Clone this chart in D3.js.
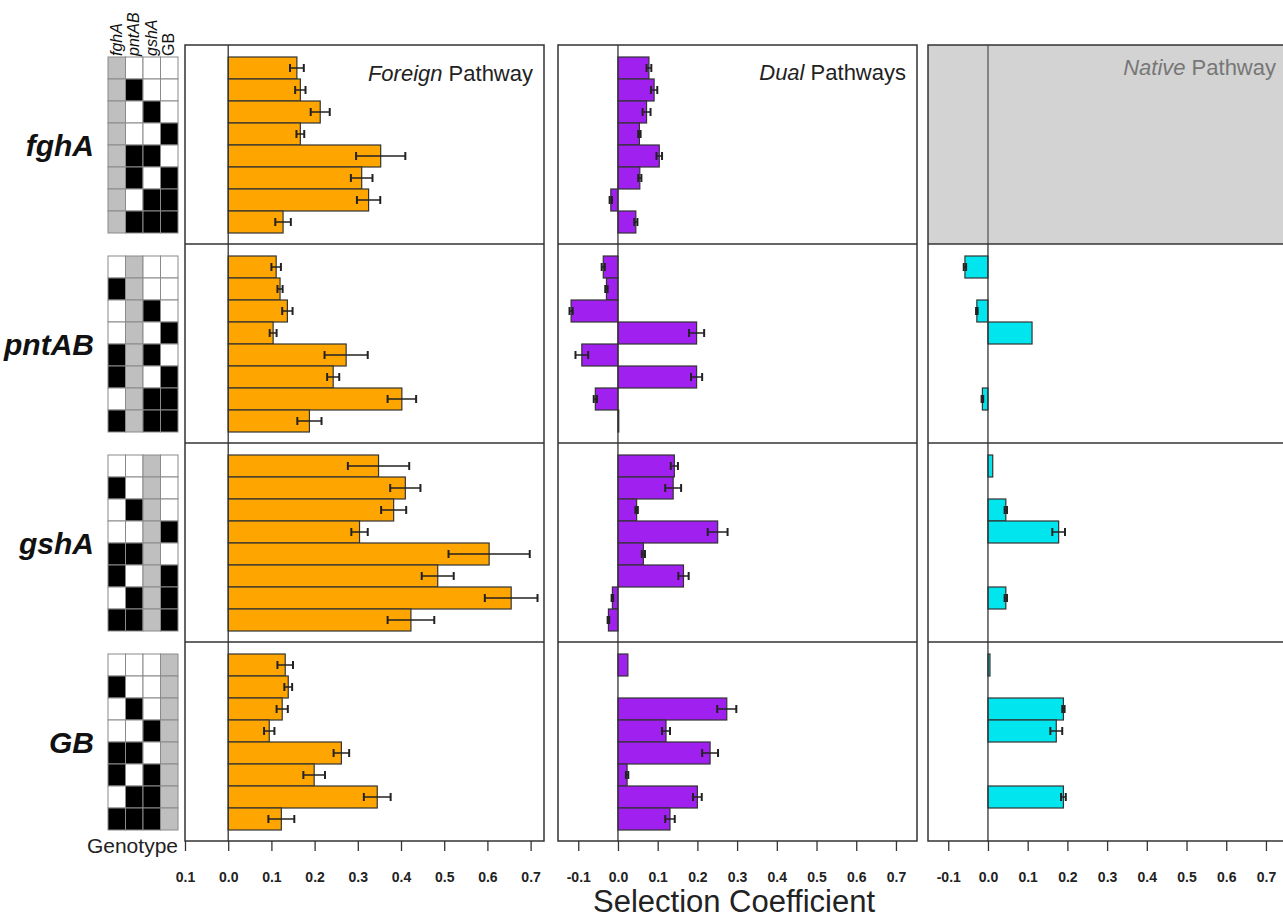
<!DOCTYPE html>
<html>
<head>
<meta charset="utf-8">
<script src="https://d3js.org/d3.v7.min.js"></script>
<style>
  body { margin: 0; background: #fff; }
  svg { display: block; font-family: "Liberation Sans", Arial, sans-serif; }
</style>
</head>
<body>
<div id="chart"></div>
<script>
// Genes (one block of rows per gene) and the 8 genotypes of the other three genes
const genes = ["fghA", "pntAB", "gshA", "GB"];
const otherGenePattern = [
  [0, 0, 0], [1, 0, 0], [0, 1, 0], [0, 0, 1],
  [1, 1, 0], [1, 0, 1], [0, 1, 1], [1, 1, 1]
];

// Selection coefficients, one row of 8 genotypes per gene block (null = not measured)
const foreignMeans = [
  [0.159, 0.167, 0.213, 0.167, 0.353, 0.309, 0.325, 0.127],
  [0.111, 0.120, 0.137, 0.104, 0.273, 0.243, 0.402, 0.188],
  [0.348, 0.410, 0.383, 0.304, 0.604, 0.485, 0.655, 0.423],
  [0.132, 0.139, 0.125, 0.095, 0.262, 0.199, 0.345, 0.123]
];
const foreignErrors = [
  [0.016, 0.012, 0.022, 0.009, 0.057, 0.025, 0.027, 0.018],
  [0.011, 0.006, 0.012, 0.008, 0.050, 0.014, 0.033, 0.028],
  [0.071, 0.035, 0.029, 0.019, 0.094, 0.037, 0.061, 0.054],
  [0.018, 0.009, 0.013, 0.012, 0.018, 0.025, 0.031, 0.030]
];

const dualMeans = [
  [0.078, 0.091, 0.072, 0.054, 0.104, 0.055, -0.018, 0.045],
  [-0.037, -0.029, -0.118, 0.198, -0.091, 0.198, -0.057, 0.002],
  [0.142, 0.139, 0.047, 0.251, 0.064, 0.165, -0.014, -0.024],
  [0.025, null, 0.274, 0.121, 0.232, 0.023, 0.200, 0.131]
];
const dualErrors = [
  [0.006, 0.008, 0.010, 0.003, 0.007, 0.004, 0.003, 0.004],
  [0.004, 0.003, 0.004, 0.019, 0.016, 0.014, 0.004, 0],
  [0.009, 0.020, 0.003, 0.025, 0.004, 0.013, 0.002, 0.002],
  [0, null, 0.024, 0.010, 0.020, 0.003, 0.011, 0.012]
];

const nativeMeans = [
  [null, null, null, null, null, null, null, null],
  [-0.058, null, -0.028, 0.111, null, null, -0.014, null],
  [0.012, null, 0.045, 0.178, null, null, 0.045, null],
  [0.005, null, 0.190, 0.172, null, null, 0.190, null]
];
const nativeErrors = [
  [null, null, null, null, null, null, null, null],
  [0.003, null, 0.002, 0, null, null, 0.002, null],
  [0, null, 0.003, 0.016, null, null, 0.003, null],
  [0, null, 0.003, 0.015, null, null, 0.006, null]
];

// Axis ticks
const tickValues = [-0.1, 0, 0.1, 0.2, 0.3, 0.4, 0.5, 0.6, 0.7];
const foreignTickLabels = ["0.1", "0.0", "0.1", "0.2", "0.3", "0.4", "0.5", "0.6", "0.7"];
const pathwayTickLabels = ["-0.1", "0.0", "0.1", "0.2", "0.3", "0.4", "0.5", "0.6", "0.7"];

// Layout
const width = 1283, height = 920;
const plotTop = 45, rowH = 199, plotBottom = plotTop + rowH * 4;

const panels = [
  { title: "Foreign", rest: " Pathway", means: foreignMeans, errs: foreignErrors, color: "#ffa500",
    range: [185, 544], domain: [-0.1, 0.731], labels: foreignTickLabels, titleColor: "#222", titleY: 81 },
  { title: "Dual", rest: " Pathways", means: dualMeans, errs: dualErrors, color: "#a020f0",
    range: [558, 917], domain: [-0.151, 0.753], labels: pathwayTickLabels, titleColor: "#222", titleY: 80 },
  { title: "Native", rest: " Pathway", means: nativeMeans, errs: nativeErrors, color: "#00e5ee",
    range: [928, 1287], domain: [-0.151, 0.753], labels: pathwayTickLabels, titleColor: "#777", titleY: 75, greyFirst: true }
];

const svg = d3.select("#chart").append("svg")
  .attr("width", width)
  .attr("height", height);

// row band inside one gene block
const band = d3.scaleBand().domain(d3.range(8)).range([12, 188]);

// ---- genotype grid ----
const gridX = d3.scaleBand().domain(genes).range([108, 178]);
const grid = svg.append("g").attr("class", "genotype");

genes.forEach((gene, i) => {
  const others = genes.filter(g => g !== gene);
  const blockTop = plotTop + i * rowH;
  otherGenePattern.forEach((pat, j) => {
    genes.forEach(g => {
      let fill = "#bfbfbf";
      if (g !== gene) fill = pat[others.indexOf(g)] ? "#000" : "#fff";
      grid.append("rect")
        .attr("x", gridX(g))
        .attr("y", blockTop + band(j))
        .attr("width", gridX.bandwidth())
        .attr("height", band.bandwidth())
        .attr("fill", fill)
        .attr("stroke", "#8a8a8a")
        .attr("stroke-width", 1);
    });
  });

  grid.append("text")
    .attr("x", 94)
    .attr("y", blockTop + 100 + 11)
    .attr("text-anchor", "end")
    .attr("font-size", 30)
    .attr("font-weight", "bold")
    .attr("font-style", "italic")
    .attr("fill", "#111")
    .text(gene);
});

// column headers
genes.forEach(g => {
  const cx = gridX(g) + gridX.bandwidth() / 2 + 5;
  grid.append("text")
    .attr("transform", `translate(${cx},56) rotate(-90)`)
    .attr("font-size", 16)
    .attr("font-style", g === "GB" ? "normal" : "italic")
    .attr("fill", "#111")
    .text(g);
});

grid.append("text")
  .attr("x", 178)
  .attr("y", 853)
  .attr("text-anchor", "end")
  .attr("font-size", 21)
  .attr("fill", "#222")
  .text("Genotype");

// ---- pathway panels ----
panels.forEach(p => {
  const x = d3.scaleLinear().domain(p.domain).range(p.range);
  const g = svg.append("g").attr("class", "panel");
  const [x0, x1] = p.range;

  g.append("rect")
    .attr("x", x0).attr("y", plotTop)
    .attr("width", x1 - x0).attr("height", plotBottom - plotTop)
    .attr("fill", "#fff");

  if (p.greyFirst) {
    g.append("rect")
      .attr("x", x0).attr("y", plotTop)
      .attr("width", x1 - x0).attr("height", rowH)
      .attr("fill", "#d3d3d3");
  }

  // bars
  p.means.forEach((row, i) => {
    const blockTop = plotTop + i * rowH;
    row.forEach((v, j) => {
      if (v == null) return;
      g.append("rect")
        .attr("x", Math.min(x(0), x(v)))
        .attr("y", blockTop + band(j))
        .attr("width", Math.abs(x(v) - x(0)))
        .attr("height", band.bandwidth())
        .attr("fill", p.color)
        .attr("stroke", "#333")
        .attr("stroke-width", 1.2);
    });
  });

  // error bars
  p.errs.forEach((row, i) => {
    const blockTop = plotTop + i * rowH;
    row.forEach((e, j) => {
      const v = p.means[i][j];
      if (v == null || !e) return;
      const cy = blockTop + band(j) + band.bandwidth() / 2;
      const a = x(v - e), b = x(v + e);
      g.append("line")
        .attr("x1", a).attr("x2", b).attr("y1", cy).attr("y2", cy)
        .attr("stroke", "#222").attr("stroke-width", 1.5);
      [a, b].forEach(cx => {
        g.append("line")
          .attr("x1", cx).attr("x2", cx).attr("y1", cy - 4).attr("y2", cy + 4)
          .attr("stroke", "#222").attr("stroke-width", 2);
      });
    });
  });

  // zero line
  g.append("line")
    .attr("x1", x(0)).attr("x2", x(0))
    .attr("y1", plotTop).attr("y2", plotBottom)
    .attr("stroke", "#333").attr("stroke-width", 1.3);
  if (p.greyFirst) {
    g.append("line")
      .attr("x1", x(0)).attr("x2", x(0))
      .attr("y1", plotTop).attr("y2", plotTop + rowH)
      .attr("stroke", "#8c8c8c").attr("stroke-width", 1.5);
  }

  // row dividers
  d3.range(1, 4).forEach(k => {
    g.append("line")
      .attr("x1", x0).attr("x2", x1)
      .attr("y1", plotTop + k * rowH).attr("y2", plotTop + k * rowH)
      .attr("stroke", "#333").attr("stroke-width", 1.5);
  });

  // border
  g.append("rect")
    .attr("x", x0).attr("y", plotTop)
    .attr("width", x1 - x0).attr("height", plotBottom - plotTop)
    .attr("fill", "none")
    .attr("stroke", "#333").attr("stroke-width", 1.5);

  // title
  const t = g.append("text")
    .attr("x", x1 - 11)
    .attr("y", p.titleY)
    .attr("text-anchor", "end")
    .attr("font-size", 22)
    .attr("fill", p.titleColor);
  t.append("tspan").attr("font-style", "italic").text(p.title);
  t.append("tspan").text(p.rest);

  // x axis
  const axis = g.append("g")
    .attr("transform", `translate(0,${plotBottom})`)
    .call(d3.axisBottom(x)
      .tickValues(tickValues)
      .tickSize(10)
      .tickFormat((d, i) => p.labels[i]));
  axis.select(".domain").remove();
  axis.selectAll(".tick line").attr("stroke", "#333").attr("stroke-width", 1.3);
  axis.selectAll(".tick text")
    .attr("y", 31)
    .attr("font-family", "'Liberation Sans', Arial, sans-serif")
    .attr("font-size", 14)
    .attr("font-weight", "bold")
    .attr("fill", "#222");
});

svg.append("text")
  .attr("x", 734)
  .attr("y", 912)
  .attr("text-anchor", "middle")
  .attr("font-size", 31)
  .attr("fill", "#222")
  .text("Selection Coefficient");
</script>
</body>
</html>
